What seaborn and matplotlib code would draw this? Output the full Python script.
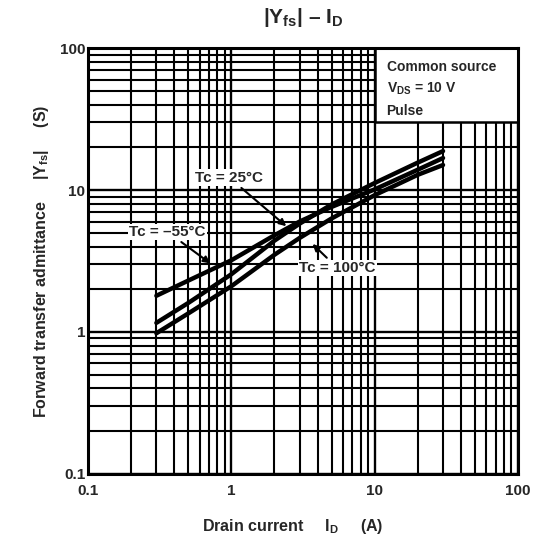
"""Forward transfer admittance |Yfs| vs drain current ID (datasheet style)."""

import matplotlib

matplotlib.use("Agg")
import matplotlib.pyplot as plt
import pandas as pd
import seaborn as sns
from matplotlib.patches import Rectangle

# Values
drain_current = [0.3, 0.5, 1, 2, 3, 5, 10, 20, 30]
yfs_m55 = [1.8, 2.3, 3.2, 4.8, 6.0, 7.6, 10.1, 13.9, 16.8]
yfs_25 = [1.16, 1.6, 2.55, 4.4, 5.8, 7.9, 11.2, 15.6, 18.8]
yfs_100 = [0.98, 1.35, 2.1, 3.5, 4.6, 6.3, 9.2, 12.8, 15.0]
temps = ["-55", "25", "100"]

tick_vals = [0.1, 1, 10, 100]
tick_labels = ["0.1", "1", "10", "100"]

rows = []
for t, ys in zip(temps, [yfs_m55, yfs_25, yfs_100]):
    for x, y in zip(drain_current, ys):
        rows.append({"id": x, "yfs": y, "tc": t})
df = pd.DataFrame(rows)

sns.set_style("white")
plt.rcParams["font.family"] = ["Liberation Sans", "DejaVu Sans"]
plt.rcParams["font.weight"] = "bold"
plt.rcParams["axes.labelweight"] = "bold"
plt.rcParams["axes.titleweight"] = "bold"
plt.rcParams["mathtext.fontset"] = "custom"
plt.rcParams["mathtext.rm"] = "Liberation Sans:bold"
plt.rcParams["mathtext.it"] = "Liberation Sans:bold"
plt.rcParams["mathtext.bf"] = "Liberation Sans:bold"

fig = plt.figure(figsize=(5.34, 5.47), dpi=100)
ax = fig.add_axes([0.1648, 0.1335, 0.8052, 0.7787])

ax.set_xscale("log")
ax.set_yscale("log")
ax.set_xlim(0.1, 100)
ax.set_ylim(0.1, 100)

ax.grid(which="major", color="black", lw=1.7, zorder=0)
ax.grid(which="minor", color="black", lw=1.5, zorder=0)
ax.set_axisbelow(True)

sns.lineplot(
    data=df, x="id", y="yfs", hue="tc", palette=["black"] * 3,
    lw=3.2, legend=False, ax=ax, zorder=3,
)

# conditions box in the upper-right corner
ax.add_patch(Rectangle((10, 30), 90, 70, facecolor="white", edgecolor="black",
                       lw=1.8, zorder=4))
ax.text(12.1, 73.5, "Common source", fontsize=10, va="center", zorder=5)
ax.text(12.1, 51.4, r"V$_{\mathrm{DS}}$ = 10 V", fontsize=10, va="center", zorder=5)
ax.text(12.1, 36, "Pulse", fontsize=10, va="center", zorder=5)

box = dict(facecolor="white", edgecolor="none", pad=1.0)
arrow = dict(arrowstyle="-|>", color="black", lw=1.5, mutation_scale=10)
ax.annotate("Tc = 25°C", xy=(2.5, 5.4), xytext=(0.97, 12.2), fontsize=11,
            ha="center", va="center", bbox=box, arrowprops=arrow, zorder=6)
ax.annotate("Tc = \u201355°C", xy=(0.74, 2.96), xytext=(0.36, 5.06), fontsize=11,
            ha="center", va="center", bbox=box, arrowprops=arrow, zorder=6)
ax.annotate("Tc = 100°C", xy=(3.57, 4.3), xytext=(5.5, 2.82), fontsize=11,
            ha="center", va="center", bbox=box, arrowprops=arrow, zorder=6)

ax.set_xticks(tick_vals)
ax.set_xticklabels(tick_labels)
ax.set_yticks(tick_vals)
ax.set_yticklabels(tick_labels)
ax.tick_params(which="both", length=0, labelsize=11)
ax.tick_params(axis="x", pad=7)
ax.tick_params(axis="y", pad=2)
for lab in ax.get_xticklabels() + ax.get_yticklabels():
    lab.set_fontweight("bold")

for sp in ax.spines.values():
    sp.set_linewidth(2.2)
    sp.set_color("black")
    sp.set_zorder(7)

ax.set_title("|Y$_{\\mathrm{fs}}$| \u2013 I$_{\\mathrm{D}}$", fontsize=15, pad=18)
ax.set_xlabel(r"Drain current     I$_{\mathrm{D}}$     (A)", fontsize=11.5, labelpad=16)
ax.set_ylabel(r"Forward transfer admittance     |Y$_{\mathrm{fs}}$|     (S)",
              fontsize=11.5, labelpad=6)
ax.xaxis.set_label_coords(0.475, -0.10)

fig.savefig("out.png", dpi=100)
